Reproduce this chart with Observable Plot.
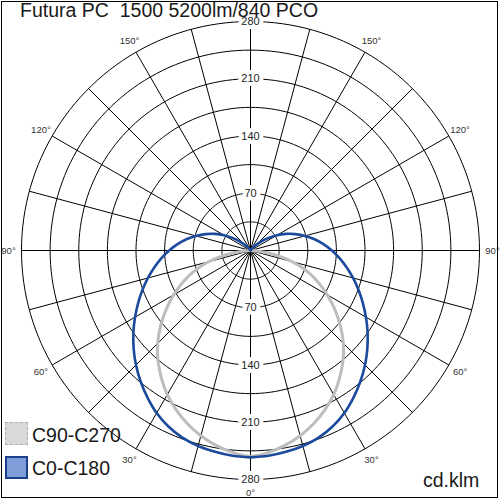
<!DOCTYPE html>
<html><head><meta charset="utf-8">
<script src="https://cdn.jsdelivr.net/npm/d3@7"></script>
<script src="https://cdn.jsdelivr.net/npm/@observablehq/plot@0.6"></script>
<style>
body{margin:0;background:#fff;font-family:"Liberation Sans",Arial,sans-serif;}
#wrap{position:relative;width:500px;height:500px;overflow:hidden;background:#fff;}
#wrap svg{position:absolute;left:0;top:0;}
.t{position:absolute;white-space:pre;color:#1a1a1a;line-height:1;}
.sw{position:absolute;box-sizing:border-box;}
#frame{position:absolute;left:1px;top:1px;width:495px;height:495px;border:1px solid #000;pointer-events:none;}
</style></head><body>
<div id="wrap"></div>
<script>
const titleText = "Futura PC  1500 5200lm/840 PCO";
const unitText = "cd.klm";
const seriesNames = ["C90-C270", "C0-C180"];
const ringValues = [35, 70, 105, 140, 175, 210, 245, 280];
const ringLabels = [70, 140, 210, 280];
const spokeAngles = d3.range(0, 360, 15);
const angleLabels = [0, 30, 60, 90, 120, 150];
const gammaAngles = d3.range(0, 185, 5);
const c0c180 = [253, 252, 250, 247.5, 243.5, 237.5, 229.5, 219.5, 209, 198, 186.5, 174.8, 163, 151.5, 140.5, 129.8, 119.5, 109.5, 99.5, 89.5, 79.5, 69, 58.5, 48, 37.5, 27, 17.5, 10, 5, 2, 0, 0, 0, 0, 0, 0, 0];
const c90c270 = [252, 248, 242, 234.5, 225.5, 215, 203.5, 190, 176, 160.5, 143.5, 126, 108.5, 91, 73, 53, 30, 10, 0, 0, 0, 0, 0, 0, 0, 0, 0, 0, 0, 0, 0, 0, 0, 0, 0, 0, 0];

const maxR = 280;
const D = maxR * 250 / 229;
const rad = d => d * Math.PI / 180;

function curve(vals, name) {
  const pts = [];
  gammaAngles.forEach((g, i) => pts.push({s: name, x: vals[i] * Math.sin(rad(g)), y: -vals[i] * Math.cos(rad(g))}));
  for (let i = gammaAngles.length - 1; i >= 0; i--) {
    const g = gammaAngles[i];
    pts.push({s: name, x: -vals[i] * Math.sin(rad(g)), y: -vals[i] * Math.cos(rad(g))});
  }
  return pts;
}
const ringPts = ringValues.flatMap(r => d3.range(0, 361, 2).map(a => ({r, x: r * Math.sin(rad(a)), y: r * Math.cos(rad(a))})));
const spokes = spokeAngles.map(a => ({x2: maxR * Math.sin(rad(a)), y2: maxR * Math.cos(rad(a))}));
const rLabelData = ringLabels.flatMap(v => [{v, y: v}, {v, y: -v}]);
const labR = maxR * 242 / 229;
const aLabelData = angleLabels.flatMap(a => {
  const out = [{a, x: labR * Math.sin(rad(a)), y: -labR * Math.cos(rad(a))}];
  if (a > 0 && a < 180) out.push({a, x: -labR * Math.sin(rad(a)), y: -labR * Math.cos(rad(a))});
  return out;
});

const chart = Plot.plot({
  width: 500, height: 500, margin: 0,
  x: {domain: [-D, D], axis: null},
  y: {domain: [-D, D], axis: null},
  style: {background: "transparent"},
  marks: [
    Plot.line(ringPts, {x: "x", y: "y", z: "r", stroke: "#000", strokeWidth: 1}),
    Plot.link(spokes, {x1: 0, y1: 0, x2: "x2", y2: "y2", stroke: "#000", strokeWidth: 1}),
    Plot.text(rLabelData, {x: 0, y: "y", text: d => String(d.v), fill: "#222", stroke: "white", strokeWidth: 8, paintOrder: "stroke", fontSize: 11, fontFamily: "Liberation Sans, Arial, sans-serif"}),
    Plot.text(aLabelData, {x: "x", y: "y", text: d => d.a + "°", fill: "#333", fontSize: 9.5, fontFamily: "Liberation Sans, Arial, sans-serif"}),
    Plot.line(curve(c90c270, seriesNames[0]), {x: "x", y: "y", stroke: "#bdbdbd", strokeWidth: 3, curve: "catmull-rom"}),
    Plot.line(curve(c0c180, seriesNames[1]), {x: "x", y: "y", stroke: "#1c4a9c", strokeWidth: 2.6, curve: "catmull-rom"})
  ]
});
const wrap = document.getElementById("wrap");
wrap.appendChild(chart);

function addText(txt, left, top, size) {
  const d = document.createElement("div");
  d.className = "t"; d.textContent = txt;
  d.style.left = left + "px"; d.style.top = top + "px"; d.style.fontSize = size + "px";
  wrap.appendChild(d);
}
function addSwatch(left, top, bg, border) {
  const d = document.createElement("div");
  d.className = "sw";
  Object.assign(d.style, {left: left + "px", top: top + "px", width: "23px", height: "23px", background: bg, border});
  wrap.appendChild(d);
}
addText(titleText, 20, 1, 19.5);
addSwatch(5, 422, "#d9d9d9", "1px dashed #b0b0b0");
addText(seriesNames[0], 32, 426, 19.5);
addSwatch(5, 456, "#7f9ed9", "2px solid #1c3f8c");
addText(seriesNames[1], 32, 459, 19.5);
addText(unitText, 423, 471, 19.5);
const fr = document.createElement("div"); fr.id = "frame"; wrap.appendChild(fr);
</script>
</body></html>
